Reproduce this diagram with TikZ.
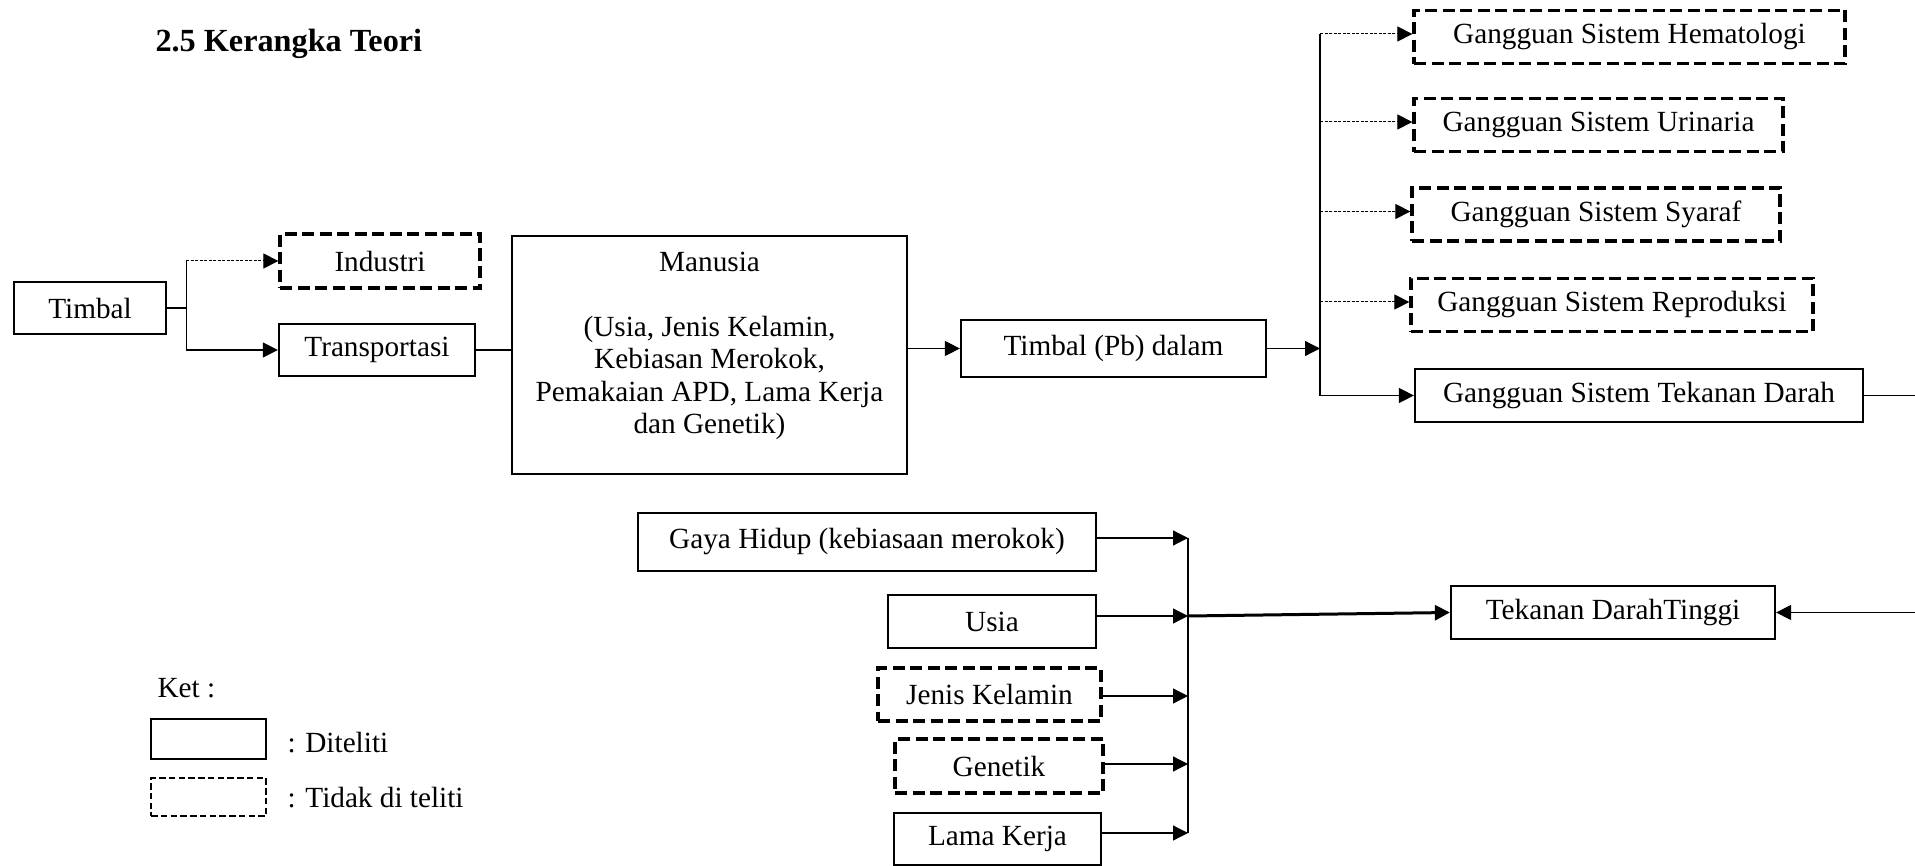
\documentclass[tikz,border=0pt]{standalone}
\usepackage{fontspec}
\setmainfont{Liberation Serif}
\usetikzlibrary{arrows.meta}

\tikzset{
  every node/.style={font=\fontsize{11.7}{13}\selectfont, inner sep=0pt},
  solidbox/.style={draw, line width=0.9pt, minimum height=21.2pt},
  dashbox/.style={draw, line width=1.3pt, dash pattern=on 4.8pt off 2.2pt, minimum height=21.4pt},
  line/.style={line width=0.5pt},
  arr/.style={line width=0.5pt, -{Triangle[length=6pt,width=6pt]}},
  dasharr/.style={line width=0.4pt, dash pattern=on 1.2pt off 0.6pt, -{Triangle[length=6pt,width=6pt]}},
  thickarr/.style={line width=1.2pt, -{Triangle[length=6pt,width=6pt]}}
}

\begin{document}
\begin{tikzpicture}[x=0.4pt,y=-0.4pt]
\useasboundingbox (0,0) rectangle (1915,866);
\clip (0,0) rectangle (1915,866);

\node[anchor=base west, font=\fontsize{12.9}{15}\selectfont\bfseries] (judul) at (155,52) {2.5 Kerangka Teori};

% sumber timbal
\node[solidbox, minimum width=60.8pt, minimum height=20.8pt] (timbal) at (90,308) {Timbal};
\node[dashbox, minimum width=80pt, minimum height=21.6pt] (industri) at (380,261) {Industri};
\node[solidbox, minimum width=78.4pt, minimum height=20.8pt] (transportasi) at (377,350) {Transportasi};

% manusia
\node[solidbox, minimum width=158pt, minimum height=95.2pt] (manusia) at (709.5,355) {};
\node[align=center] (manusiateks) at (709.5,346) {Manusia\\[13pt](Usia, Jenis Kelamin,\\Kebiasan Merokok,\\Pemakaian APD, Lama Kerja\\dan Genetik)};
\node[solidbox, minimum width=122pt, minimum height=22.8pt] (timbalpb) at (1113.5,348.5) {Timbal (Pb) dalam};

% gangguan
\node[dashbox, minimum width=172.4pt] (hematologi) at (1629.5,37) {Gangguan Sistem Hematologi};
\node[dashbox, minimum width=147.6pt] (urinaria) at (1598.5,125) {Gangguan Sistem Urinaria};
\node[dashbox, minimum width=147.2pt, minimum height=21.2pt] (syaraf) at (1596,214.5) {Gangguan Sistem Syaraf};
\node[dashbox, minimum width=160.8pt] (reproduksi) at (1612,305) {Gangguan Sistem Reproduksi};
\node[solidbox, minimum width=179.2pt] (tekanan) at (1639,395.5) {Gangguan Sistem Tekanan Darah};

% faktor risiko
\node[solidbox, minimum width=183.2pt, minimum height=23.2pt] (gaya) at (867,542) {Gaya Hidup (kebiasaan merokok)};
\node[solidbox, minimum width=83.2pt] (usia) at (992,621.5) {Usia};
\node[dashbox, minimum width=89.2pt, minimum height=21.2pt] (jenis) at (989.5,694.5) {Jenis Kelamin};
\node[dashbox, minimum width=83.2pt, minimum height=21.6pt] (genetik) at (999,766) {Genetik};
\node[solidbox, minimum width=82.8pt, minimum height=20.8pt] (lama) at (997.5,839) {Lama Kerja};
\node[solidbox, minimum width=129.6pt] (tinggi) at (1613,612.5) {Tekanan DarahTinggi};

% keterangan
\node[anchor=base west] (ket) at (157,697) {Ket :};
\node[draw, line width=0.6pt, minimum width=46pt, minimum height=16pt] (kotak1) at (208.5,739) {};
\node[draw, line width=0.7pt, dash pattern=on 2.6pt off 1.3pt, minimum width=46pt, minimum height=15.2pt] (kotak2) at (208.5,797) {};
\node[anchor=base west] (diteliti) at (287,752) {: Diteliti};
\node[anchor=base west] (tidak) at (287,807) {: Tidak di teliti};

% panah atas
\draw[line] (timbal.east) -- ++(19,0) coordinate (j1);
\draw[line] (j1 |- industri.west) -- (j1 |- transportasi.west);
\draw[dasharr] (j1 |- industri.west) -- (industri.west);
\draw[arr] (j1 |- transportasi.west) -- (transportasi.west);
\draw[line] (transportasi.east) -- (transportasi.east -| manusia.west);
\draw[arr] (manusia.east |- timbalpb.west) -- (timbalpb.west);

\coordinate (j2) at (1320,0);
\draw[arr] (timbalpb.east) -- (timbalpb.east -| j2);
\draw[line] ([yshift=1.2pt]j2 |- hematologi.west) -- (j2 |- tekanan.west);
\foreach \n in {hematologi,urinaria,syaraf,reproduksi}
  \draw[dasharr] ([yshift=1.2pt]j2 |- \n.west) -- ([yshift=1.2pt]\n.west);
\draw[arr] (j2 |- tekanan.west) -- (tekanan.west);

% ke tekanan darah tinggi (lewat tepi kanan)
\coordinate (j3) at (1960,0);
\draw[arr] (tekanan.east) -- (tekanan.east -| j3) -- (j3 |- tinggi.east) -- (tinggi.east);

% panah bawah
\coordinate (j4) at (1188,0);
\foreach \n/\d in {gaya/1.6pt,usia/2.2pt,jenis/-0.6pt,genetik/0.8pt,lama/2.4pt}
  \draw[arr] ([yshift=\d]\n.east) -- ([yshift=\d]\n.east -| j4);
\draw[line] ([yshift=1.6pt]j4 |- gaya.east) -- ([yshift=2.4pt]j4 |- lama.east);
\draw[thickarr] ([yshift=2.2pt]j4 |- usia.east) -- (tinggi.west);
\end{tikzpicture}
\end{document}
